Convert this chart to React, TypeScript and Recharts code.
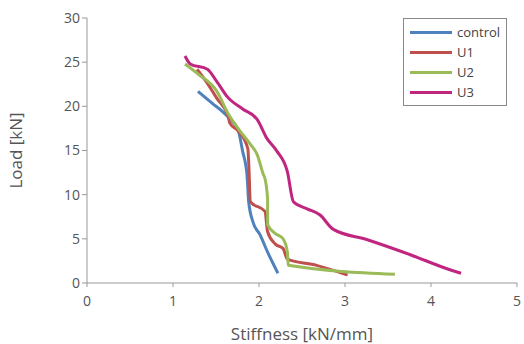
import { LineChart, Line, XAxis, YAxis } from 'recharts';

const xTicks = [0, 1, 2, 3, 4, 5];
const yTicks = [0, 5, 10, 15, 20, 25, 30];

const controlStiffness = [1.29, 1.45, 1.63, 1.76, 1.81, 1.86, 1.88, 1.93, 2.01, 2.1, 2.22];
const controlLoad = [21.7, 20.4, 18.9, 17.2, 14.9, 12.3, 9.2, 6.9, 5.5, 3.5, 1.1];

const u1Stiffness = [1.28, 1.4, 1.51, 1.64, 1.66, 1.76, 1.87, 1.88, 1.9, 2.07, 2.1, 2.19, 2.28, 2.33, 2.67, 3.03];
const u1Load = [24.2, 22.6, 20.9, 18.9, 18.1, 17.2, 15.2, 13.7, 9.2, 8.1, 5.8, 4.4, 3.9, 2.7, 2.0, 0.9];

const u2Stiffness = [1.14, 1.3, 1.51, 1.64, 1.78, 1.9, 1.98, 2.05, 2.07, 2.1, 2.1, 2.19, 2.28, 2.33, 2.34, 3.58];
const u2Load = [24.8, 23.6, 21.7, 19.2, 17.2, 15.7, 14.5, 12.3, 11.8, 9.5, 6.6, 5.6, 5.0, 3.5, 2.0, 1.0];

const u3Stiffness = [1.14, 1.2, 1.4, 1.51, 1.63, 1.81, 1.98, 2.09, 2.21, 2.33, 2.4, 2.56, 2.71, 2.86, 3.26, 3.76, 4.22, 4.35];
const u3Load = [25.7, 24.8, 24.2, 22.8, 21.1, 19.7, 18.5, 16.4, 14.9, 12.6, 9.2, 8.4, 7.7, 6.1, 4.9, 3.2, 1.5, 1.1];

const toPoints = (xs: number[], ys: number[]) => xs.map((x, i) => ({ x, y: ys[i] }));

const series = [
  { name: 'control', color: '#4f81bd', data: toPoints(controlStiffness, controlLoad) },
  { name: 'U1', color: '#c0504d', data: toPoints(u1Stiffness, u1Load) },
  { name: 'U2', color: '#9bbb59', data: toPoints(u2Stiffness, u2Load) },
  { name: 'U3', color: '#c0267f', data: toPoints(u3Stiffness, u3Load) },
];

const font = '"Open Sans", sans-serif';

function LegendBox() {
  return (
    <div style={{ position: 'absolute', left: 403, top: 18, width: 104, border: '1px solid #8a8a8a', background: '#fff', padding: '3px 0 3px 6px', fontFamily: font, fontSize: 13, color: '#444', boxSizing: 'border-box' }}>
      {series.map(s => (
        <div key={s.name} style={{ display: 'flex', alignItems: 'center', height: 20 }}>
          <div style={{ width: 42, height: 3, background: s.color, marginRight: 5 }} />
          <span>{s.name}</span>
        </div>
      ))}
    </div>
  );
}

export default function App() {
  return (
    <div style={{ position: 'absolute', left: 0, top: 0, width: 524, height: 344, background: '#fff' }}>
      <LineChart width={524} height={344} margin={{ top: 18, right: 7, bottom: 0, left: 0 }}>
        <XAxis
          type="number"
          dataKey="x"
          domain={[0, 5]}
          ticks={xTicks}
          allowDuplicatedCategory={false}
          stroke="#999"
          tick={{ fill: '#555', fontSize: 14, fontFamily: font, dy: 7 }}
          tickSize={4}
          height={61}
          label={{ value: 'Stiffness [kN/mm]', position: 'insideBottom', offset: 4, fill: '#555', fontSize: 17, fontFamily: font }}
        />
        <YAxis
          type="number"
          dataKey="y"
          domain={[0, 30]}
          ticks={yTicks}
          stroke="#999"
          tick={{ fill: '#555', fontSize: 14, fontFamily: font }}
          tickSize={5}
          width={87}
          label={{ value: 'Load [kN]', angle: -90, position: 'insideLeft', offset: 16, fill: '#555', fontSize: 17, fontFamily: font, style: { textAnchor: 'middle' } }}
        />
        {series.map(s => (
          <Line
            key={s.name}
            data={s.data}
            dataKey="y"
            name={s.name}
            type="monotone"
            stroke={s.color}
            strokeWidth={3}
            dot={false}
            isAnimationActive={false}
          />
        ))}
      </LineChart>
      <LegendBox />
    </div>
  );
}
